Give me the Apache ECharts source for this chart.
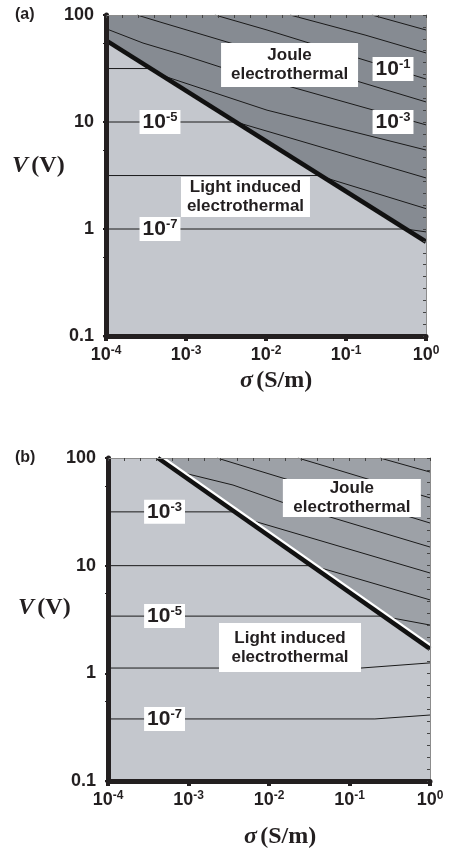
<!DOCTYPE html>
<html>
<head>
<meta charset="utf-8">
<script src="https://cdn.jsdelivr.net/npm/echarts@6/dist/echarts.min.js"></script>
<style>
  html, body { margin: 0; padding: 0; background: #ffffff; }
  #chart { width: 457px; height: 854px; }
</style>
</head>
<body>
<div id="chart"></div>
<script>
// Axis ranges and tick labels (both panels share them)
const sigmaMin = 1e-4, sigmaMax = 1;
const voltMin = 0.1, voltMax = 100;
const sigmaTickExponents = [-4, -3, -2, -1, 0];
const voltTickLabels = ['0.1', '1', '10', '100'];

// ---- Panel (a) ----
// Regime boundary: above it Joule heating dominates
const boundaryA = [[1e-4, 58], [1, 0.76]];
// Contour lines, one path per decade level (exponent listed alongside)
const contourExpA = [1, 0, -1, -2, -3, -4, -5, -6, -7];
const contourPathsA = [
  [[0.211, 100], [1, 72.4]],
  [[0.02, 100], [0.173, 65], [1, 44.2]],
  [[0.0023, 100], [0.0103, 72.4], [1, 25.2]],
  [[2.44e-4, 100], [4.73e-4, 86], [3.25e-3, 56], [1, 15.4]],
  [[1e-4, 74.5], [1.19e-4, 70.8], [2.9e-4, 54.7], [9.17e-4, 42.3], [2.66e-3, 32.7], [1, 9.4]],
  [[1e-4, 31.6], [3.55e-4, 31.6], [5.79e-4, 26.3], [0.0103, 12.9], [1, 5.47]],
  [[1e-4, 10], [4.2e-3, 10], [1, 3.0]],
  [[1e-4, 3.16], [0.045, 3.16], [1, 1.55]],
  [[1e-4, 1], [0.55, 1], [1, 0.94]]
];
// Contour level tags: [sigma, V, exponent]
const contourTagsA = [[4.73e-4, 10, -5], [4.73e-4, 1, -7], [0.387, 31.3, -1], [0.387, 10, -3]];
// Regime names: [sigma, V, text]
const regionTagsA = [[0.0197, 34.1, 'Joule\nelectrothermal'], [5.54e-3, 1.99, 'Light induced\nelectrothermal']];

// ---- Panel (b) ----
const boundaryB = [[4.17e-4, 100], [1, 1.69]];
const contourExpB = [1, 0, -1, -2, -3, -4, -5, -6, -7];
const contourPathsB = [
  [[0.239, 100], [1, 74.1]],
  [[0.0229, 100], [0.0406, 88], [1, 42.6]],
  [[2.26e-3, 100], [4.37e-3, 86], [1, 24.9]],
  [[7.83e-4, 74.1], [3.57e-3, 56.1], [0.01824, 36.6], [1, 14.9]],
  [[1e-4, 31.6], [3.9e-3, 31.6], [5.8e-3, 26.6], [1, 8.55]],
  [[1e-4, 10], [0.0352, 10], [1, 4.81]],
  [[1e-4, 3.4], [0.254, 3.4], [1, 2.81]],
  [[1e-4, 1.12], [0.139, 1.12], [1, 1.25]],
  [[1e-4, 0.377], [0.207, 0.377], [1, 0.41]]
];
const contourTagsB = [[5.04e-4, 31.6, -3], [5.04e-4, 3.4, -5], [5.04e-4, 0.377, -7]];
const regionTagsB = [[0.107, 42.6, 'Joule\nelectrothermal'], [0.01824, 1.74, 'Light induced\nelectrothermal']];

// ---- styling ----
const INK = '#231f20';
const SANS = '"Liberation Sans", Arial, sans-serif';
const SERIF = '"Liberation Serif", "Times New Roman", serif';
const LIGHT = '#c4c7cd';

const panels = [
  { left: 106, top: 15, width: 320, height: 321, dark: '#868b92',
    boundary: boundaryA, paths: contourPathsA, tags: contourTagsA, regions: regionTagsA,
    regionBoxes: [[137, 44], [129, 40]], edge: false },
  { left: 108, top: 458, width: 322, height: 323, dark: '#9da1a7',
    boundary: boundaryB, paths: contourPathsB, tags: contourTagsB, regions: regionTagsB,
    regionBoxes: [[138, 38], [142, 49]], edge: true }
];

function expOf(v) { return Math.round(Math.log10(v)); }

const plain = { textBorderWidth: 0, textShadowBlur: 0 };
const tickRich = {
  b: Object.assign({ fontFamily: SANS, fontWeight: 'bold', fontSize: 18, color: INK, lineHeight: 20 }, plain),
  s: Object.assign({ fontFamily: SANS, fontWeight: 'bold', fontSize: 12, color: INK, lineHeight: 12, verticalAlign: 'top' }, plain)
};
const tagRich = {
  b: Object.assign({ fontFamily: SANS, fontWeight: 'bold', fontSize: 21, color: INK, lineHeight: 23 }, plain),
  s: Object.assign({ fontFamily: SANS, fontWeight: 'bold', fontSize: 13, color: INK, lineHeight: 13, verticalAlign: 'top' }, plain)
};

const grids = [], xAxes = [], yAxes = [], series = [];

panels.forEach((p, i) => {
  grids.push({ left: p.left, top: p.top, width: p.width, height: p.height,
    show: true, backgroundColor: LIGHT, borderWidth: 0 });

  // bottom sigma axis with labels
  xAxes.push({
    gridIndex: i, type: 'log', logBase: 10, min: sigmaMin, max: sigmaMax, position: 'bottom', z: 8,
    axisLine: { show: true, lineStyle: { color: INK, width: 5 } },
    axisTick: { show: true, length: 5, lineStyle: { color: INK, width: 4 } },
    minorTick: { show: false }, splitLine: { show: false },
    axisLabel: { margin: 9, formatter: v => '{b|10}{s|' + sigmaTickExponents[expOf(v) + 4] + '}', rich: tickRich }
  });
  // top frame edge with evenly spaced inward ticks
  xAxes.push({
    gridIndex: i, type: 'value', min: 0, max: 20, interval: 1, position: 'top', z: 8,
    axisLine: { show: true, lineStyle: { color: '#8c8c8c', width: 1 } },
    axisTick: { show: true, inside: true, length: 3, lineStyle: { color: '#444', width: 1 } },
    axisLabel: { show: false }, splitLine: { show: false }
  });
  // left voltage axis with labels
  yAxes.push({
    gridIndex: i, type: 'log', logBase: 10, min: voltMin, max: voltMax, position: 'left', z: 8,
    axisLine: { show: true, lineStyle: { color: INK, width: 5 } },
    axisTick: { show: true, length: 3, lineStyle: { color: INK, width: 2 } },
    minorTick: { show: true, splitNumber: 2, length: 3, lineStyle: { color: INK, width: 1 } },
    splitLine: { show: false },
    axisLabel: { margin: 12, fontFamily: SANS, fontWeight: 'bold', fontSize: 18, color: INK,
      formatter: v => voltTickLabels[expOf(v) + 1] }
  });
  // right frame edge with evenly spaced inward ticks
  yAxes.push({
    gridIndex: i, type: 'value', min: 0, max: 27, interval: 1, position: 'right', z: 8,
    axisLine: { show: true, lineStyle: { color: '#8c8c8c', width: 1 } },
    axisTick: { show: true, inside: true, length: 3, lineStyle: { color: '#444', width: 1 } },
    axisLabel: { show: false }, splitLine: { show: false }
  });

  const xi = 2 * i, yi = 2 * i;

  // Joule-dominated region: fill between the boundary and the top of the plot
  series.push({
    type: 'line', xAxisIndex: xi, yAxisIndex: yi, data: p.boundary, symbol: 'none', silent: true,
    lineStyle: { width: 0 }, areaStyle: { origin: 'end', color: p.dark, opacity: 1 }, z: 1
  });

  // contour lines
  p.paths.forEach(path => {
    series.push({
      type: 'line', xAxisIndex: xi, yAxisIndex: yi, data: path, symbol: 'none', silent: true,
      lineStyle: { color: '#1a1a1a', width: 1 }, z: 2
    });
  });

  // thick boundary line
  const bStyle = { color: '#111', width: 4.5 };
  if (p.edge) Object.assign(bStyle, { shadowColor: '#ffffff', shadowBlur: 0, shadowOffsetX: 1, shadowOffsetY: -2 });
  series.push({
    type: 'line', xAxisIndex: xi, yAxisIndex: yi, data: p.boundary, symbol: 'none', silent: true,
    lineStyle: bStyle, z: 3
  });

  // contour level tags
  series.push({
    type: 'scatter', xAxisIndex: xi, yAxisIndex: yi, symbolSize: 0, silent: true, z: 6,
    itemStyle: { opacity: 1 },
    data: p.tags.map(t => ({ value: [t[0], t[1]], exp: t[2] })),
    label: Object.assign({
      show: true, position: 'inside', backgroundColor: '#ffffff', padding: [1, 3, 0, 3], color: INK, opacity: 1,
      formatter: prm => '{b|10}{s|' + prm.data.exp + '}', rich: tagRich
    }, plain)
  });

  // regime names
  series.push({
    type: 'scatter', xAxisIndex: xi, yAxisIndex: yi, symbolSize: 0, silent: true, z: 6,
    itemStyle: { opacity: 1 },
    data: p.regions.map((r, k) => ({
      value: [r[0], r[1]], text: r[2],
      label: { width: p.regionBoxes[k][0], height: p.regionBoxes[k][1] }
    })),
    label: Object.assign({
      show: true, position: 'inside', backgroundColor: '#ffffff', align: 'center', verticalAlign: 'middle',
      fontFamily: SANS, fontWeight: 'bold', fontSize: 17, lineHeight: 19, color: INK, opacity: 1,
      formatter: prm => prm.data.text
    }, plain)
  });
});

const titleRich = {
  i: { fontFamily: SERIF, fontStyle: 'italic', fontWeight: 'bold', fontSize: 24, fill: INK },
  r: { fontFamily: SERIF, fontWeight: 'bold', fontSize: 24, fill: INK }
};

const graphic = [
  { type: 'text', left: 15, top: 7, style: { text: '(a)', font: 'bold 16px ' + SANS, fill: INK } },
  { type: 'text', left: 15, top: 450, style: { text: '(b)', font: 'bold 16px ' + SANS, fill: INK } },
  { type: 'text', left: 12, top: 154, style: { text: '{i|V} {r|(V)}', rich: titleRich } },
  { type: 'text', left: 18, top: 596, style: { text: '{i|V} {r|(V)}', rich: titleRich } },
  { type: 'text', left: 240, top: 369, style: { text: '{i|σ} {r|(S/m)}', rich: titleRich } },
  { type: 'text', left: 244, top: 825, style: { text: '{i|σ} {r|(S/m)}', rich: titleRich } }
];

const chart = echarts.init(document.getElementById('chart'), null, { renderer: 'canvas' });
chart.setOption({
  animation: false,
  backgroundColor: '#ffffff',
  grid: grids,
  xAxis: xAxes,
  yAxis: yAxes,
  series: series,
  graphic: graphic
});
</script>
</body>
</html>
